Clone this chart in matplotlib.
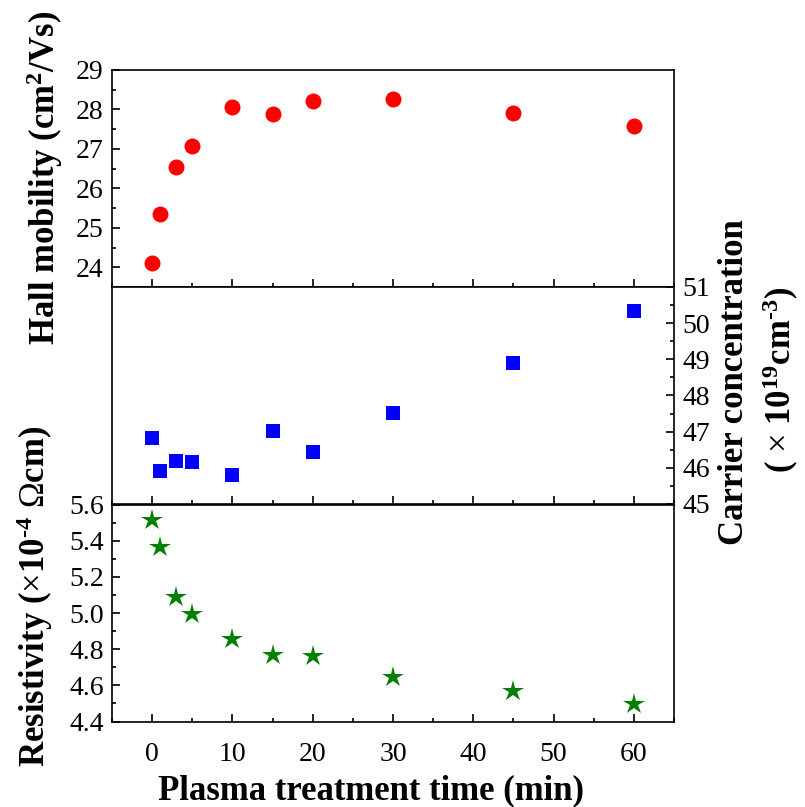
import matplotlib
matplotlib.use('Agg')
import matplotlib.pyplot as plt
from matplotlib.ticker import MultipleLocator, FormatStrFormatter

# plasma treatment time (min)
time_min = [0, 1, 3, 5, 10, 15, 20, 30, 45, 60]
# Hall mobility (cm2/Vs)
mobility = [24.11, 25.36, 26.55, 27.08, 28.06, 27.88, 28.22, 28.26, 27.91, 27.58]
# carrier concentration (x1e19 cm-3)
carrier = [46.83, 45.90, 46.18, 46.15, 45.81, 47.01, 46.44, 47.52, 48.90, 50.34]
# resistivity (x1e-4 ohm cm)
resistivity = [5.517, 5.366, 5.09, 4.994, 4.854, 4.769, 4.762, 4.648, 4.571, 4.496]

x_ticks = [0, 10, 20, 30, 40, 50, 60]

plt.rcParams['font.family'] = ['Liberation Serif', 'DejaVu Serif']
plt.rcParams['mathtext.fontset'] = 'custom'
plt.rcParams['mathtext.rm'] = 'Liberation Serif'
plt.rcParams['mathtext.bf'] = 'Liberation Serif:bold'
plt.rcParams['mathtext.it'] = 'Liberation Serif:italic'

fig = plt.figure(figsize=(8.05, 8.07), dpi=100)

left, width, height = 0.1391, 0.6981, 0.2689
ax1 = fig.add_axes([left, 0.6444, width, height])
ax2 = fig.add_axes([left, 0.3755, width, height])
ax3 = fig.add_axes([left, 0.1059, width, height])

ax1.plot(time_min, mobility, 'o', color='#ff0000', markersize=11.5, markeredgewidth=0)
ax2.plot(time_min, carrier, 's', color='#0000ff', markersize=10, markeredgewidth=0)
ax3.plot(time_min, resistivity, '*', color='#008000', markersize=16, markeredgewidth=0)

ax1.set_ylim(23.5, 29)
ax1.yaxis.set_major_locator(MultipleLocator(1))
ax1.yaxis.set_minor_locator(MultipleLocator(0.5))

ax2.set_ylim(45, 51)
ax2.yaxis.tick_right()
ax2.yaxis.set_major_locator(MultipleLocator(1))
ax2.yaxis.set_minor_locator(MultipleLocator(0.5))

ax3.set_ylim(4.4, 5.6)
ax3.yaxis.set_major_locator(MultipleLocator(0.2))
ax3.yaxis.set_minor_locator(MultipleLocator(0.1))
ax3.yaxis.set_major_formatter(FormatStrFormatter('%.1f'))

for ax in (ax1, ax2, ax3):
    ax.set_xlim(-5, 65)
    ax.set_xticks(x_ticks)
    ax.xaxis.set_minor_locator(MultipleLocator(5))
    ax.tick_params(which='both', direction='in', width=1.2, labelsize=20,
                   top=False)
    ax.tick_params(which='major', length=6)
    ax.tick_params(which='minor', length=3)
    ax.tick_params(axis='x', pad=15)
    ax.tick_params(axis='y', pad=6)
    for spine in ax.spines.values():
        spine.set_linewidth(1.2)

ax1.tick_params(axis='x', labelbottom=False)
ax2.tick_params(axis='x', labelbottom=False)
ax2.tick_params(axis='y', which='both', left=False, right=True,
                labelleft=False, labelright=True)

# short hyphen in the superscripts, like the original figure
hy = '\u2010'
fig.text(0.0559, 0.7794, r'Hall mobility (cm$^\mathbf{2}$/Vs)', rotation=90,
         ha='center', va='center', fontsize=25, fontweight='bold')
fig.text(0.0435, 0.2615, r'Resistivity ($\times$10$^\mathbf{' + hy + r'4}$ $\Omega$cm)', rotation=90,
         ha='center', va='center', fontsize=25, fontweight='bold')
fig.text(0.912, 0.5266, 'Carrier concentration', rotation=90,
         ha='center', va='center', fontsize=25, fontweight='bold')
fig.text(0.970, 0.530, r'( $\times$ 10$^\mathbf{19}$cm$^\mathbf{' + hy + r'3}$)', rotation=90,
         ha='center', va='center', fontsize=25, fontweight='bold')
fig.text(0.4609, 0.0198, 'Plasma treatment time (min)',
         ha='center', va='center', fontsize=25, fontweight='bold')

fig.savefig('out.png', dpi=100)
